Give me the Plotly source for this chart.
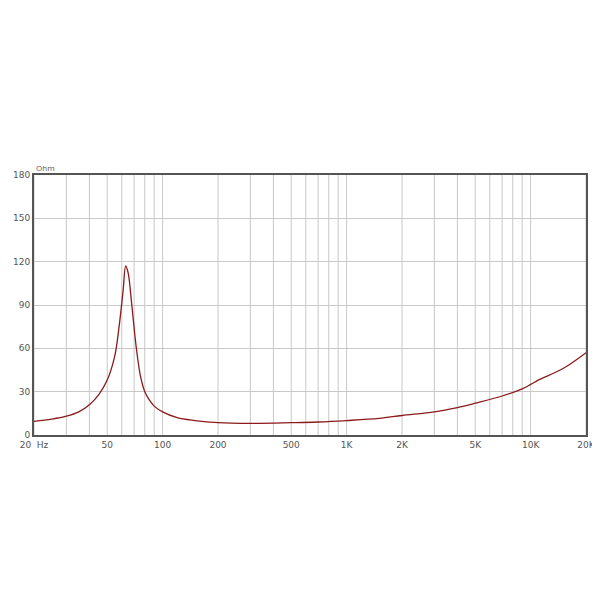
import plotly.graph_objects as go

freq = [20, 25, 30, 35, 40, 45, 50, 55, 58, 61, 63, 65, 68, 72, 76, 80, 85, 90, 100, 120, 150,
        200, 300, 500, 700, 1000, 1500, 2000, 3000, 4000, 5000, 7000, 9000, 10000, 11000, 15000, 20000]
ohm = [9.5, 11, 13, 16, 21, 28, 38, 55, 75, 100, 117, 112, 90, 60, 40, 30, 24, 20, 16, 12, 10,
       8.5, 8, 8.5, 9, 10, 11.5, 13.5, 16, 19, 22, 27, 32, 35, 38, 46, 57]

tickvals = [20, 50, 100, 200, 500, 1000, 2000, 5000, 10000, 20000]
ticktext = ["20  Hz", "50", "100", "200", "500", "1K", "2K", "5K", "10K", "20K"]
grid_x = [m * 10**d for d in range(1, 5) for m in range(1, 10) if 20 <= m * 10**d <= 20000]

fig = go.Figure()
fig.add_trace(go.Scatter(x=freq, y=ohm, mode="lines", line=dict(color="#8b1a1a", width=1.3),
                         line_shape="spline"))
for g in grid_x:
    fig.add_vline(x=g, line=dict(color="#c8c8c8", width=1), layer="below")

fig.update_xaxes(type="log", range=[1.30103, 4.30103], tickvals=tickvals, ticktext=ticktext,
                 showgrid=False, showline=True, linecolor="#555", linewidth=2, mirror=True,
                 ticks="", automargin=False,
                 tickfont=dict(size=9, color="#555", family="DejaVu Sans"))
fig.update_yaxes(range=[0, 180], tickvals=list(range(0, 181, 30)), showgrid=True,
                 gridcolor="#c8c8c8", showline=True, linecolor="#555", linewidth=2, mirror=True,
                 ticks="", zeroline=False, automargin=False,
                 tickfont=dict(size=9, color="#555", family="DejaVu Sans"))
fig.add_annotation(text="Ohm", x=0, y=1, xref="paper", yref="paper", xanchor="left",
                   yanchor="bottom", showarrow=False, font=dict(size=8, color="#555"))
fig.update_layout(width=600, height=600, margin=dict(l=26, r=22, t=167, b=173, autoexpand=False),
                  plot_bgcolor="white", paper_bgcolor="white", showlegend=False)
fig.write_html("out.html")
